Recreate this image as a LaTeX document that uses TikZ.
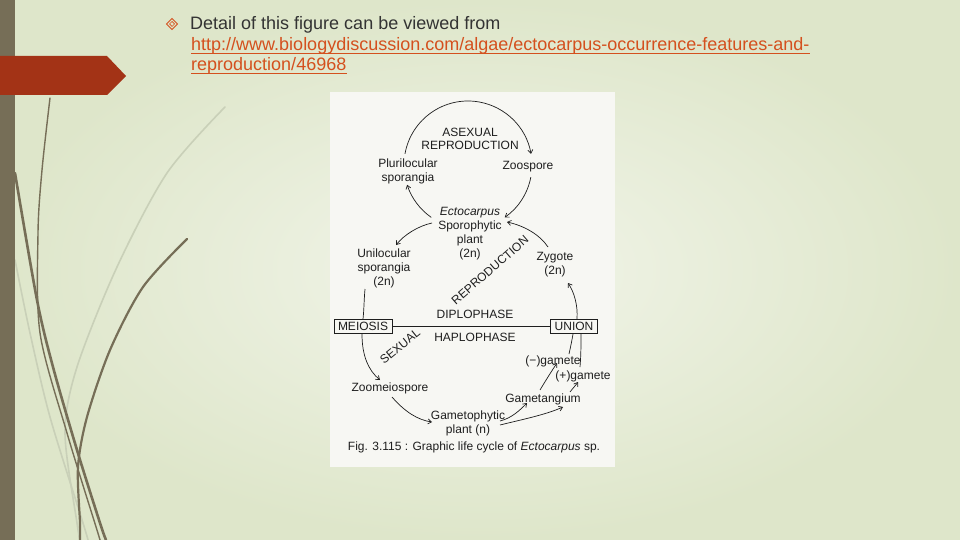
\documentclass[tikz,border=0pt]{standalone}
\usepackage{fontspec}
\setmainfont{Liberation Sans}
\usetikzlibrary{arrows.meta,shapes.geometric}
\definecolor{bgin}{HTML}{F2F5EA}
\definecolor{bgout}{HTML}{DEE6CA}
\definecolor{barc}{HTML}{766E57}
\definecolor{redc}{HTML}{A33316}
\definecolor{linkc}{HTML}{D4501E}
\definecolor{txtc}{HTML}{333333}
\definecolor{ink}{HTML}{1E1E1E}
\definecolor{lightc}{HTML}{C9D0B8}
\definecolor{figbg}{HTML}{F7F7F3}
\begin{document}
\begin{tikzpicture}[x=1pt,y=-1pt,
  lbl/.style={font=\fontsize{12}{14}\selectfont, text=ink, inner sep=0.5pt, align=center},
  boxed/.style={lbl, draw=ink, line width=0.8pt, inner xsep=4pt, minimum height=14pt},
  conn/.style={draw=ink, line width=0.7pt},
  arr/.style={conn, -{Straight Barb[length=3.5pt,width=5pt]}},
  deco/.style={draw=barc, line cap=round},
  decol/.style={draw=lightc, line cap=round},
  head/.style={font=\fontsize{18}{20}\selectfont, inner sep=0pt, anchor=base west}
]
\useasboundingbox (0,0) rectangle (960,540);
\shade[inner color=bgin, outer color=bgout] (0,0) rectangle (960,540);

% decorative curves
\draw[decol, line width=1.6pt] plot[smooth] coordinates {(225,107) (167,173) (117,267) (77,367) (65,433) (77,523) (80,540)};
\draw[decol, line width=1.6pt] plot[smooth] coordinates {(15,260) (30,333) (50,417) (83,523) (88,540)};
\draw[deco, line width=1.4pt] plot[smooth] coordinates {(50,98) (42,170) (38,233) (40,333) (67,433) (97,530) (100,540)};
\draw[deco, line width=2.6pt] plot[smooth] coordinates {(15,173) (37,300) (53,367) (77,450) (100,523) (106,540)};
\draw[deco, line width=2.2pt] plot[smooth] coordinates {(187,239) (143,287) (110,350) (87,417) (78,467) (80,523) (80,540)};

% left bar and red tab
\fill[barc] (0,0) rectangle (15,540);
\fill[redc] (0,56) -- (107,56) -- (126,76) -- (107,95) -- (0,95) -- cycle;

% header
\begin{scope}[shift={(172,24)}]
  \draw[linkc, line width=0.8pt] (0,-5.5) -- (5.5,0) -- (0,5.5) -- (-5.5,0) -- cycle;
  \draw[linkc, line width=0.7pt] (0,-2.5) -- (2.5,0) -- (0,2.5) -- (-2.5,0) -- cycle;
\end{scope}
\node[head, text=txtc] (h1) at (190,30) {Detail of this figure can be viewed from};
\node[head, text=linkc] (h2) at (191,51) {http://www.biologydiscussion.com/algae/ectocarpus-occurrence-features-and-};
\node[head, text=linkc] (h3) at (191,71) {reproduction/46968};
\draw[linkc, line width=1pt] ([yshift=-2.5pt]h2.base west) -- ([yshift=-2.5pt]h2.base east);
\draw[linkc, line width=1pt] ([yshift=-2.5pt]h3.base west) -- ([yshift=-2.5pt]h3.base east);

% figure panel
\fill[figbg] (330,92) rectangle (615,467);

% labels
\node[lbl] (asex) at (470,132) {ASEXUAL};
\node[lbl] (asrep) at (470,145) {REPRODUCTION};
\node[lbl] (pluri) at (408,171) {Plurilocular\\sporangia};
\node[lbl] (zoo) at (528,167) {Zoospore};
\node[lbl] (ecto) at (470,234) {\textit{Ectocarpus}\\Sporophytic\\plant\\(2n)};
\node[lbl] (uni) at (384,268) {Unilocular\\sporangia\\(2n)};
\node[lbl] (zyg) at (555,265) {Zygote\\(2n)};
\node[boxed] (meio) at (363,326.5) {MEIOSIS};
\node[boxed] (union) at (574,326.5) {UNION};
\node[lbl] (dip) at (475,314) {DIPLOPHASE};
\node[lbl] (hap) at (475,337) {HAPLOPHASE};
\node[lbl, rotate=41] (srep) at (490,270) {REPRODUCTION};
\node[lbl, rotate=39] (sex) at (400,346) {SEXUAL};
\node[lbl] (zms) at (390,388) {Zoomeiospore};
\node[lbl] (gam) at (468,423) {Gametophytic\\plant (n)};
\node[lbl] (gtg) at (543,399) {Gametangium};
\node[lbl] (mg) at (553,361) {(−)gamete};
\node[lbl] (pg) at (583,376) {(+)gamete};
\node[lbl] (cap) at (474,447) {Fig. 3.115 : Graphic life cycle of \textit{Ectocarpus} sp.};

% circle of asexual reproduction
\coordinate (c1) at (468,165);
\draw[arr] ([shift={(190:64)}]c1) arc[start angle=190, end angle=350, radius=64];
\draw[arr] ([shift={(11:64)}]c1) arc[start angle=11, end angle=55, radius=64];
\draw[arr] ([shift={(125:64)}]c1) arc[start angle=125, end angle=162, radius=64];

% connector end points
\coordinate (ectoL) at (432,223);
\coordinate (uniT) at (396,245);
\coordinate (zygT) at (548,247);
\coordinate (ectoR) at (507,222);
\coordinate (uniB) at (365,289);
\coordinate (meioB) at (362,334);
\coordinate (zmsT) at (380,380);
\coordinate (zmsB) at (392,397);
\coordinate (gamL) at (432,422);
\coordinate (gamR1) at (500,421);
\coordinate (gamR2) at (500,425);
\coordinate (gtgL) at (527,403);
\coordinate (gtgR) at (563,407);
\coordinate (gtgT1) at (540,390);
\coordinate (mgB) at (557,363);
\coordinate (gtgT2) at (570,392);
\coordinate (pgB) at (578,382);
\coordinate (mgR) at (569,354);
\coordinate (pgT) at (580,367);
\coordinate (unT) at (577,319);
\coordinate (zygB) at (568,283);

\draw[arr] (ectoL) .. controls (418,226) and (404,235) .. (uniT);
\draw[arr] (zygT) .. controls (540,235) and (525,226) .. (ectoR);
\draw[conn] (uniB) .. controls (364,300) and (364,310) .. (meio.north);
\draw[conn] (meio.east) -- (union.west);
\draw[arr] (meioB) .. controls (362,355) and (368,370) .. (zmsT);
\draw[arr] (zmsB) .. controls (405,412) and (418,420) .. (gamL);
\draw[arr] (gamR1) .. controls (512,418) and (520,410) .. (gtgL);
\draw[arr] (gamR2) .. controls (520,420) and (545,415) .. (gtgR);
\draw[arr] (gtgT1) .. controls (546,380) and (551,372) .. (mgB);
\draw[arr] (gtgT2) .. controls (573,388) and (576,385) .. (pgB);
\draw[conn] (mgR) .. controls (571,345) and (572,340) .. (union.south -| 573,0);
\draw[conn] (pgT) .. controls (581,355) and (581,345) .. (union.south -| 581,0);
\draw[arr] (unT) .. controls (578,305) and (574,292) .. (zygB);
\end{tikzpicture}
\end{document}
